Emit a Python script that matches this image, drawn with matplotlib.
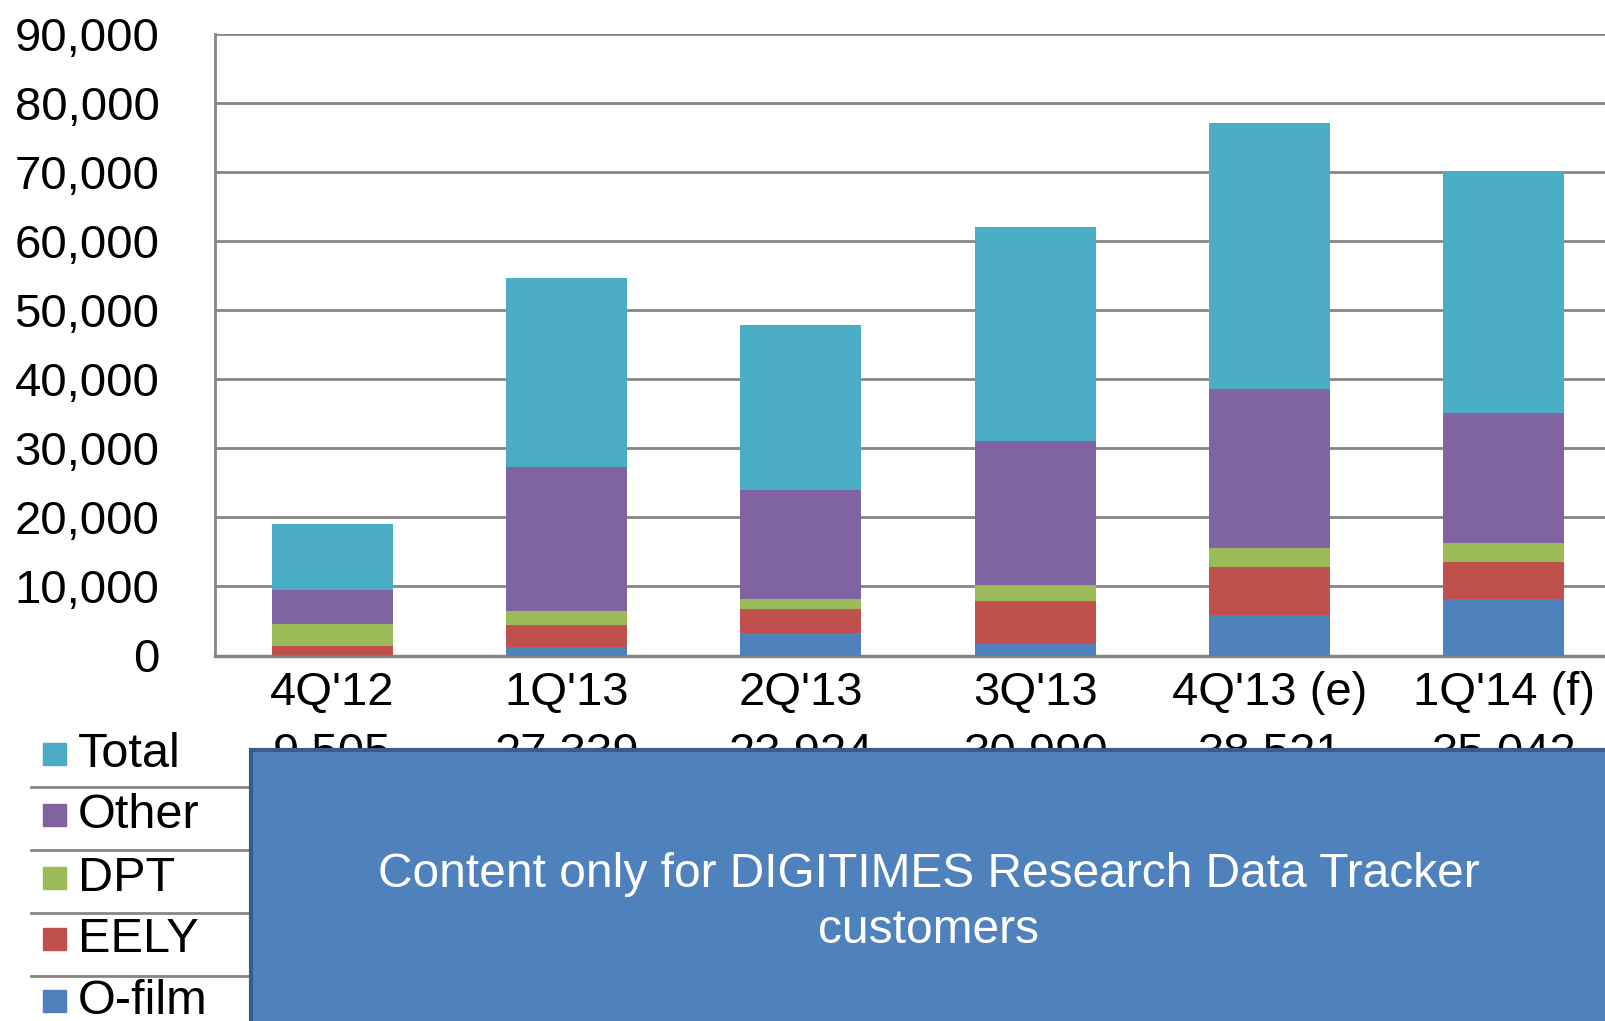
import matplotlib
matplotlib.use("Agg")
import matplotlib.pyplot as plt
import numpy as np
from matplotlib.patches import Rectangle

plt.rcParams['font.family'] = ['Liberation Sans', 'DejaVu Sans']

quarters = ["4Q'12", "1Q'13", "2Q'13", "3Q'13", "4Q'13 (e)", "1Q'14 (f)"]
o_film = [100, 1300, 3300, 1700, 5900, 8200]
eely = [1300, 3100, 3450, 6150, 6900, 5400]
dpt = [3100, 2000, 1500, 2300, 2700, 2700]
other = [5005, 20939, 15674, 20840, 23021, 18742]
total = [9505, 27339, 23924, 30990, 38521, 35042]

series_names = ["O-film", "EELY", "DPT", "Other", "Total"]
series_colors = ["#4F81BD", "#C0504D", "#9BBB59", "#8064A2", "#4BACC6"]
grid_gray = "#868686"

W, H = 1606, 1021
fig = plt.figure(figsize=(W / 100, H / 100), dpi=100)

# plot area (it runs a bit past the right edge like the original)
ax_left, ax_right = 215 / W, 1621 / W
ax_bot, ax_top = (H - 655.5) / H, (H - 33.8) / H
ax = fig.add_axes([ax_left, ax_bot, ax_right - ax_left, ax_top - ax_bot])

x = np.arange(len(quarters))
bottom = np.zeros(len(quarters))
for vals, name, col in zip([o_film, eely, dpt, other, total], series_names, series_colors):
    ax.bar(x, vals, width=0.516, bottom=bottom, color=col, label=name, zorder=3)
    bottom += np.array(vals)

ax.set_xlim(-0.5, 5.5)
ax.set_ylim(0, 90000)
ax.set_yticks(np.arange(0, 90001, 10000))
ax.set_yticklabels([f"{v:,}" for v in range(0, 90001, 10000)])
ax.yaxis.grid(True, color=grid_gray, linewidth=2, zorder=0)
ax.set_axisbelow(True)
ax.tick_params(axis="y", length=0, pad=40, labelsize=34)
ax.tick_params(axis="x", length=0, pad=11, labelsize=34)
ax.set_xticks(x)
ax.set_xticklabels(quarters)
for s in ["top", "right"]:
    ax.spines[s].set_visible(False)
ax.spines["left"].set_color(grid_gray)
ax.spines["left"].set_linewidth(2)
ax.spines["bottom"].set_color(grid_gray)
ax.spines["bottom"].set_linewidth(2.5)

# data table under the chart
row_order = ["Total", "Other", "DPT", "EELY", "O-film"]
row_color = dict(zip(series_names, series_colors))
row_y = [754, 815, 878, 939, 1001]
for name, yc in zip(row_order, row_y):
    fig.patches.append(Rectangle((43 / W, 1 - (yc + 11) / H), 23 / W, 22 / H,
                                 transform=fig.transFigure, color=row_color[name], zorder=2))
    fig.text(78 / W, 1 - yc / H, name, fontsize=35, va="center", ha="left", zorder=2)
for yl in [787, 850, 913, 976]:
    fig.lines.append(plt.Line2D([31 / W, 1], [1 - yl / H, 1 - yl / H], transform=fig.transFigure,
                                color=grid_gray, linewidth=2, zorder=1))

# only the totals row peeks out above the cover box
for xi, v in zip(x, total):
    xd = ax.transData.transform((xi, 0))[0]
    fig.text(xd / fig.bbox.width, 1 - 754 / H, f"{v:,}", fontsize=34, ha="center", va="center", zorder=2)

# cover box
fig.patches.append(Rectangle((251 / W, -0.05), 1 - 251 / W + 0.05, 1 - 750 / H + 0.05,
                             transform=fig.transFigure, facecolor="#4F81BD", edgecolor="#385D8A",
                             linewidth=3, zorder=10))
fig.text(929 / W, 1 - 874 / H, "Content only for DIGITIMES Research Data Tracker",
         fontsize=34.5, color="white", ha="center", va="center", zorder=11)
fig.text(929 / W, 1 - 930 / H, "customers",
         fontsize=34.5, color="white", ha="center", va="center", zorder=11)

fig.savefig("out.png", dpi=100)
